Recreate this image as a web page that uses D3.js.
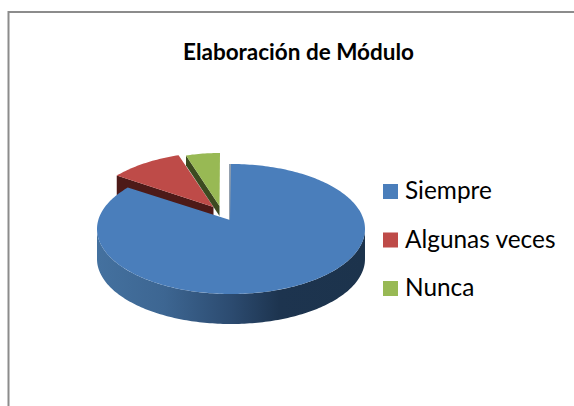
<!DOCTYPE html>
<html>
<head>
<meta charset="utf-8">
<script src="https://cdn.jsdelivr.net/npm/d3@7"></script>
<style>html,body{margin:0;padding:0;background:#fff}svg{display:block}</style>
</head>
<body>
<script>
const categories = ["Siempre", "Algunas veces", "Nunca"];
const values = [86, 9, 5];
const colors = ["#4a7ebb", "#be4b48", "#98b954"];
const sideColors = ["#1c334d", "#4d1a18", "#3c4a20"];
const title = "Elaboración de Módulo";

const W = 574, H = 406;
const svg = d3.select("body").append("svg").attr("width", W).attr("height", H);

// Frame: top and left edges only are visible in the crop
svg.append("path").attr("d", `M8.5,${H}V12H${W}`).attr("fill", "none")
  .attr("stroke", "#8c8c8c").attr("stroke-width", 2);

svg.append("text").attr("x", 298.5).attr("y", 60).attr("text-anchor", "middle")
  .attr("font-family", "Lato, 'Open Sans', sans-serif").attr("font-weight", 700)
  .attr("font-size", 22.5).attr("fill", "#000").text(title);

// Per-slice projection (the original is a perspective 3-D pie with exploded slices)
const geom = [
  {cx: 231, cy: 229, rx: 134, ry: 65, ax: 230, ay: 220, depth: 30},
  {cx: 220, cy: 217, rx: 134, ry: 65, ax: 213.5, ay: 207, depth: 20},
  {cx: 220, cy: 203, rx: 110, ry: 50, ax: 219.5, ay: 206, depth: 10}
];

const pie = d3.pie().sort(null).startAngle(0).endAngle(2 * Math.PI);
const arcs = pie(values);

function rim(g, a0, a1) {
  const n = Math.max(2, Math.ceil((a1 - a0) / 0.02));
  return d3.range(n + 1).map(i => {
    const a = a0 + (a1 - a0) * i / n;
    return [g.cx + g.rx * Math.sin(a), g.cy - g.ry * Math.cos(a)];
  });
}
const line = d3.line();

const defs = svg.append("defs");
const grad = defs.append("linearGradient").attr("id", "blueSide")
  .attr("gradientUnits", "userSpaceOnUse")
  .attr("x1", geom[0].cx - geom[0].rx).attr("x2", geom[0].cx + geom[0].rx)
  .attr("y1", 0).attr("y2", 0);
[[0, "#44719f"], [0.25, "#3d6692"], [0.5, "#2c4b70"], [0.68, "#1d344f"], [1, "#1c334c"]]
  .forEach(([o, c]) => grad.append("stop").attr("offset", o).attr("stop-color", c));

const drawOrder = [1, 2, 0];
drawOrder.forEach(i => {
  const g = geom[i], d = arcs[i];
  const layer = svg.append("g").attr("class", "slice");
  if (i === 0) {
    // outer wall: the front half of the rim, extruded downward
    const front = rim(g, Math.PI / 2, 3 * Math.PI / 2);
    const wall = front.concat(front.slice().reverse().map(p => [p[0], p[1] + g.depth]));
    layer.append("path").attr("d", line(wall) + "Z").attr("fill", "url(#blueSide)");
    // thin inner face along the start edge
    layer.append("path")
      .attr("d", line([[g.ax, g.ay], [g.cx - 1, g.cy - g.ry]]))
      .attr("stroke", "#27405f").attr("stroke-width", 1).attr("fill", "none");
  } else {
    // cut faces from the rim to the centre, extruded downward
    const start = rim(g, d.startAngle, d.startAngle + 0.001)[0];
    const face = [start, [g.ax, g.ay], [g.ax, g.ay + g.depth], [start[0], start[1] + g.depth]];
    layer.append("path").attr("d", line(face) + "Z").attr("fill", sideColors[i]);
  }
  const top = [[g.ax, g.ay]].concat(rim(g, d.startAngle, d.endAngle));
  layer.append("path").attr("d", line(top) + "Z").attr("fill", colors[i]);
});

// Legend
const legendY = d3.scalePoint().domain(categories).range([199, 296]);
const legend = svg.selectAll("g.legend").data(categories).join("g").attr("class", "legend");
legend.append("rect").attr("x", 383).attr("width", 15).attr("height", 15)
  .attr("y", c => legendY(c) - 15).attr("fill", (c, i) => colors[i]);
legend.append("text").attr("x", 405).attr("y", c => legendY(c))
  .attr("font-family", "Lato, 'Open Sans', sans-serif").attr("font-size", 24.4)
  .attr("fill", "#000").text(c => c);
</script>
</body>
</html>
